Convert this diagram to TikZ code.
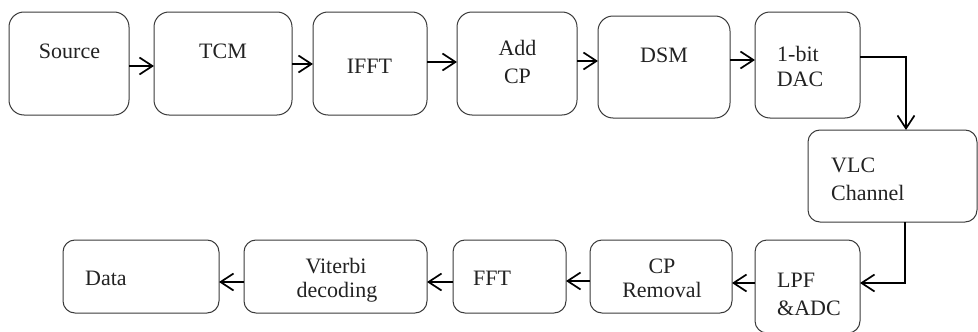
\documentclass[tikz,border=0pt]{standalone}
\usepackage{fontspec}
\setmainfont{Liberation Serif}
\usetikzlibrary{arrows.meta}
\definecolor{boxline}{HTML}{3A3A3A}
\definecolor{txt}{HTML}{222222}
\tikzset{
  box/.style={draw=boxline, line width=1pt, rounded corners=15pt, inner sep=0pt, outer sep=0pt},
  lbox/.style={box, rounded corners=12pt},
  lbl/.style={inner sep=0pt, text=txt, font=\fontsize{22}{26}\selectfont},
  arr/.style={line width=1.7pt, -{Straight Barb[length=13pt,width=17pt,line width=1.7pt]}}
}
\begin{document}
\begin{tikzpicture}[x=1pt,y=-1pt]
\useasboundingbox (0,0) rectangle (978,332);
% boxes
\node[box, minimum width=120pt, minimum height=103pt] (src) at (69,63.5) {};
\node[box, minimum width=138pt, minimum height=103pt] (tcm) at (223,63.5) {};
\node[box, minimum width=114pt, minimum height=103pt] (ifft) at (370,63.5) {};
\node[box, minimum width=120pt, minimum height=103pt] (add) at (517,63.5) {};
\node[box, minimum width=132pt, minimum height=102pt] (dsm) at (664,67) {};
\node[box, minimum width=105pt, minimum height=106pt] (dac) at (807.5,65) {};
\node[lbox, minimum width=169pt, minimum height=92pt] (vlc) at (892.5,176) {};
\node[lbox, minimum width=105pt, minimum height=93pt] (lpf) at (807.5,286.5) {};
\node[lbox, minimum width=142pt, minimum height=73pt] (cpr) at (661,276.5) {};
\node[lbox, minimum width=113pt, minimum height=73pt] (fft) at (509.5,276.5) {};
\node[lbox, minimum width=183pt, minimum height=73pt] (vit) at (335.5,276.5) {};
\node[lbox, minimum width=156pt, minimum height=73pt] (data) at (141,276.5) {};
% texts
\node[lbl, anchor=base] (tsrc) at (69.5,58) {Source};
\node[lbl, anchor=base] (ttcm) at (223,58) {TCM};
\node[lbl, anchor=base] (tifft) at (369.5,73) {IFFT};
\node[lbl, anchor=base] (tadd1) at (517.5,55) {Add};
\node[lbl, anchor=base] (tadd2) at (517.5,83) {CP};
\node[lbl, anchor=base] (tdsm) at (664,62) {DSM};
\node[lbl, anchor=base] (tdac1) at (798,61) {1-bit};
\node[lbl, anchor=base] (tdac2) at (800,86) {DAC};
\node[lbl, anchor=base west] (tvlc1) at (831,172) {VLC};
\node[lbl, anchor=base west] (tvlc2) at (831,200) {Channel};
\node[lbl, anchor=base west] (tlpf1) at (777,287) {LPF};
\node[lbl, anchor=base west] (tlpf2) at (777,315) {\&ADC};
\node[lbl, anchor=base] (tcpr1) at (662,273) {CP};
\node[lbl, anchor=base] (tcpr2) at (662,297) {Removal};
\node[lbl, anchor=base west] (tfft) at (473,285) {FFT};
\node[lbl, anchor=base] (tvit1) at (336,273) {Viterbi};
\node[lbl, anchor=base] (tvit2) at (337,297) {decoding};
\node[lbl, anchor=base west] (tdata) at (85,285) {Data};
% connectors
\draw[arr] ([yshift=-2.5pt]src.east) coordinate (p1) -- (tcm.west |- p1);
\draw[arr] ([yshift=-0.5pt]tcm.east) coordinate (p2) -- (ifft.west |- p2);
\draw[arr] ([yshift=1.5pt]ifft.east) coordinate (p3) -- (add.west |- p3);
\draw[arr] ([yshift=2.5pt]add.east) coordinate (p4) -- (dsm.west |- p4);
\draw[arr] ([yshift=7pt]dsm.east) coordinate (p5) -- (dac.west |- p5);
\draw[arr] ([yshift=8pt]dac.east) -| ([xshift=13.5pt]vlc.north);
\draw[arr] ([xshift=12.5pt]vlc.south) |- ([yshift=3.5pt]lpf.east);
\draw[arr] ([yshift=3.5pt]lpf.west) coordinate (p6) -- (cpr.east |- p6);
\draw[arr] ([yshift=-4.5pt]cpr.west) coordinate (p7) -- (fft.east |- p7);
\draw[arr] ([yshift=-5.5pt]fft.west) coordinate (p8) -- (vit.east |- p8);
\draw[arr] ([yshift=-5.5pt]vit.west) coordinate (p9) -- (data.east |- p9);
\end{tikzpicture}
\end{document}
